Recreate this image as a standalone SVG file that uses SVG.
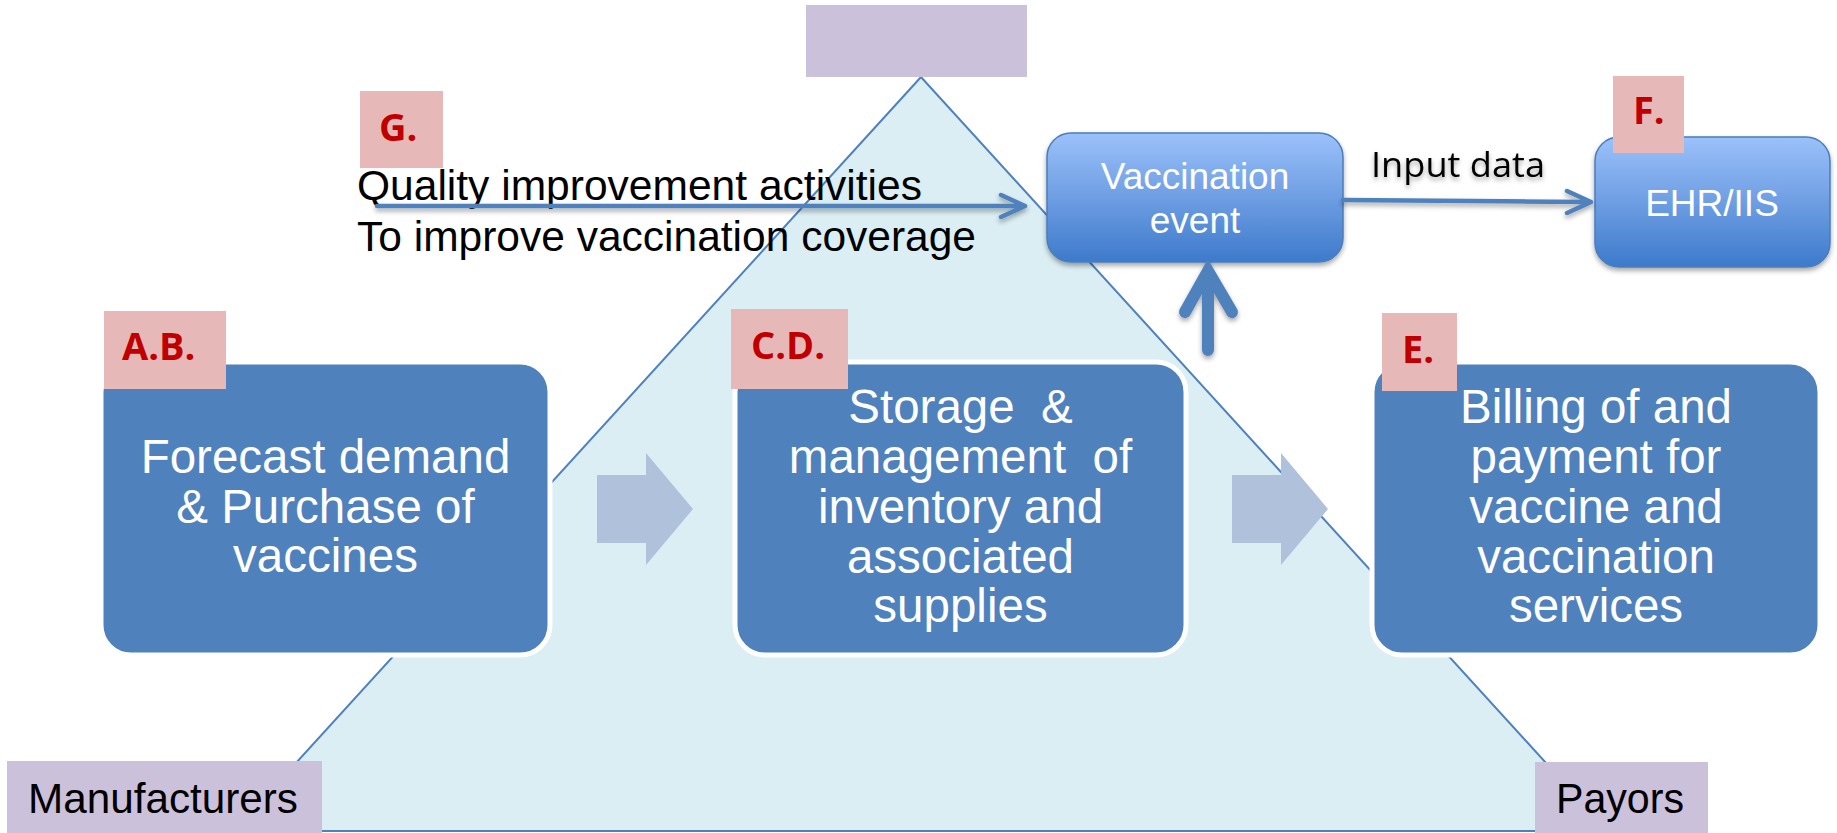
<svg xmlns="http://www.w3.org/2000/svg" width="1837" height="833" viewBox="0 0 1837 833">
<style>
.arial{font-family:"Liberation Sans",Arial,sans-serif}
.box{fill:#4F81BD;stroke:#FFFFFF;stroke-width:5}
.boxtxt{font-family:"Liberation Sans",Arial,sans-serif;font-size:47.5px;fill:#FFFFFF;text-anchor:middle;white-space:pre}
.lbl{fill:#E6B9B8}
.lbltxt{font-family:"Open Sans","Noto Sans",sans-serif;font-weight:700;font-size:38px;fill:#C00000}
.role{fill:#CCC1DA}
.roletxt{font-family:"Liberation Sans",Arial,sans-serif;font-size:42px;fill:#000000}
.gbox{fill:url(#blueGrad);stroke:#4A7EBB;stroke-width:1.5}
.gtxt{font-family:"Liberation Sans",Arial,sans-serif;font-size:37px;fill:#FFFFFF;text-anchor:middle}
.conn{fill:none;stroke:#4F81BD;stroke-width:4.5;stroke-linecap:round;stroke-linejoin:round}
.block{fill:#B0C1DC}
</style>
<defs>
<linearGradient id="blueGrad" x1="0" y1="0" x2="0" y2="1">
<stop offset="0" stop-color="#9BC1FA"/>
<stop offset="0.5" stop-color="#6E9EE3"/>
<stop offset="1" stop-color="#3D7ACB"/>
</linearGradient>
<filter id="shadow" x="-10%" y="-10%" width="120%" height="140%">
<feDropShadow dx="0" dy="3" stdDeviation="2.5" flood-color="#000000" flood-opacity="0.35"/>
</filter>
</defs>
<rect width="1837" height="833" fill="#FFFFFF"/>

<g id="triangle">
<polygon points="921,77 234,831 1608,831" fill="#DAEEF3" stroke="#4F81BD" stroke-width="2"/>
</g>

<g id="top-role">
<rect class="role" x="806" y="5" width="221" height="72"/>
</g>
<g id="manufacturers">
<rect class="role" x="7" y="761" width="315" height="72"/>
<text class="roletxt" x="28" y="813" textLength="270" lengthAdjust="spacingAndGlyphs">Manufacturers</text>
</g>
<g id="payors">
<rect class="role" x="1535" y="762" width="173" height="71"/>
<text class="roletxt" x="1556" y="813" textLength="128" lengthAdjust="spacingAndGlyphs">Payors</text>
</g>

<g id="block-arrows">
<polygon class="block" points="597,475 646,475 646,453 693,509 646,565 646,543 597,543"/>
<polygon class="block" points="1232,475 1281,475 1281,453 1328,509 1281,565 1281,543 1232,543"/>
</g>

<g id="node-ab">
<rect class="box" x="101" y="362" width="449" height="293" rx="30"/>
<text class="boxtxt" x="325.5" y="473">Forecast demand</text>
<text class="boxtxt" x="325.5" y="523">&amp; Purchase of</text>
<text class="boxtxt" x="325.5" y="572">vaccines</text>
<rect class="lbl" x="104" y="311" width="122" height="78"/>
<text class="lbltxt" x="122" y="360">A.B.</text>
</g>

<g id="node-cd">
<rect class="box" x="735" y="362" width="451" height="293" rx="30"/>
<text class="boxtxt" x="960.5" y="423">Storage  &amp;</text>
<text class="boxtxt" x="960.5" y="473">management  of</text>
<text class="boxtxt" x="960.5" y="523">inventory and</text>
<text class="boxtxt" x="960.5" y="573">associated</text>
<text class="boxtxt" x="960.5" y="622">supplies</text>
<rect class="lbl" x="731" y="309" width="117" height="80"/>
<text class="lbltxt" x="751" y="359">C.D.</text>
</g>

<g id="node-e">
<rect class="box" x="1372" y="362" width="448" height="293" rx="30"/>
<text class="boxtxt" x="1596" y="423">Billing of and</text>
<text class="boxtxt" x="1596" y="473">payment for</text>
<text class="boxtxt" x="1596" y="523">vaccine and</text>
<text class="boxtxt" x="1596" y="573">vaccination</text>
<text class="boxtxt" x="1596" y="622">services</text>
<rect class="lbl" x="1382" y="313" width="75" height="78"/>
<text class="lbltxt" x="1402" y="363">E.</text>
</g>

<g id="node-g">
<rect class="lbl" x="360" y="91" width="83" height="77"/>
<text class="lbltxt" x="379" y="141">G.</text>
<text class="roletxt" x="357" y="200" textLength="565" lengthAdjust="spacingAndGlyphs">Quality improvement activities</text>
<text class="roletxt" x="357" y="251" textLength="619" lengthAdjust="spacingAndGlyphs">To improve vaccination coverage</text>
</g>

<g id="node-vaccination">
<rect class="gbox" x="1047" y="133" width="296" height="129" rx="24" filter="url(#shadow)"/>
<text class="gtxt" x="1195" y="189">Vaccination</text>
<text class="gtxt" x="1195" y="233">event</text>
</g>

<g id="node-ehr">
<rect class="gbox" x="1595" y="137" width="235" height="130" rx="24" filter="url(#shadow)"/>
<text class="gtxt" x="1712" y="216">EHR/IIS</text>
<rect class="lbl" x="1613" y="76" width="71" height="77"/>
<text class="lbltxt" x="1633" y="124">F.</text>
</g>

<g id="connectors" filter="url(#shadow)">
<path class="conn" d="M377,206 L1024,206 M1001,195 L1025,206 L1001,217"/>
<path class="conn" d="M1343,200 L1590,202 M1567,191 L1591,202 L1567,213"/>
<text x="1371" y="177" font-family="'Open Sans','Noto Sans',sans-serif" font-size="35" fill="#000000" textLength="174" lengthAdjust="spacingAndGlyphs">Input data</text>
<path d="M1208,350 L1208,272 M1185,312 L1208,271 L1232,312" fill="none" stroke="#4F81BD" stroke-width="12" stroke-linecap="round" stroke-linejoin="miter"/>
</g>
</svg>
